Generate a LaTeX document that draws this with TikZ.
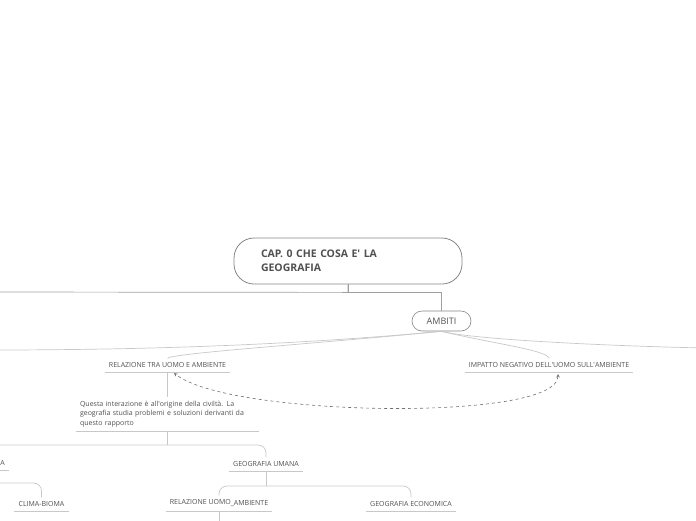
\documentclass[tikz,border=0pt]{standalone}
\usepackage{fontspec}
\setmainfont{Open Sans}
\usepackage{xcolor}
\definecolor{txt}{HTML}{505050}
\definecolor{edgegray}{HTML}{858585}
\definecolor{wire}{HTML}{C8C8C8}
\definecolor{rootwire}{HTML}{A0A0A0}
\definecolor{dashgray}{HTML}{707070}
\newcommand{\apo}{\textquotesingle}

\begin{document}
\begin{tikzpicture}[x=1pt,y=-1pt,
    root/.style={draw=edgegray,line width=0.8pt,rounded corners=20pt,text=txt,
      font=\bfseries\fontsize{10.5}{14}\selectfont,text width=174pt,align=left,
      inner xsep=27pt,minimum height=46pt},
    bubble/.style={draw=edgegray,line width=0.6pt,rounded corners=10pt,text=txt,
      font=\fontsize{9}{10}\selectfont,minimum width=59pt,minimum height=20pt},
    topic/.style={anchor=south,text=txt,font=\fontsize{7}{9.5}\selectfont,
      inner xsep=4pt,inner ysep=4pt,
      append after command={(\tikzlastnode.south west) edge[draw=wire,line width=0.6pt] (\tikzlastnode.south east)}},
    link/.style={draw=wire,line width=0.7pt},
    rootlink/.style={draw=rootwire,line width=0.7pt},
    relation/.style={draw=dashgray,line width=0.6pt,dashed,<->,>=stealth}]
  \useasboundingbox (0,0) rectangle (696,520);
  \clip (0,0) rectangle (696,520);
  \node[root] (R) at (348,261) {CAP. 0 CHE COSA E\apo{} LA\\GEOGRAFIA};
  \node[bubble] (A) at (441.5,321) {AMBITI};
  \node[topic] (B) at (167.5,372) {RELAZIONE TRA UOMO E AMBIENTE};
  \node[topic] (C) at (549,372) {IMPATTO NEGATIVO DELL\apo{}UOMO SULL\apo{}AMBIENTE};
  \node[topic,text width=175pt,align=left] (Q) at (167.5,431)
    {Questa interazione è all\apo{}origine della civiltà. La\\geografia studia problemi e soluzioni derivanti da\\questo rapporto};
  \node[topic] (GU) at (266,471) {GEOGRAFIA UMANA};
  \node[topic,anchor=south east] (GF) at (9,470) {GEOGRAFIA FISICA};
  \node[topic] (CB) at (41.5,511) {CLIMA-BIOMA};
  \node[topic] (RUA) at (219,511) {RELAZIONE UOMO\raisebox{-1pt}{\_AMBIENTE}};
  \node[topic] (GE) at (411,511) {GEOGRAFIA ECONOMICA};
  \coordinate (L0) at (-10,292);
  \coordinate (L1) at (-10,350);
  \coordinate (R1) at (706,348);
  \coordinate (D0) at (219,530);

  \draw[rootlink] (R.south) -- ++(0,8) -| (A.north);
  \draw[rootlink] (R.south) -- ++(0,8) -- (L0);
  \draw[link] (A.south) .. controls +(-150,14) and +(150,0) .. (L1);
  \draw[link] (A.south) .. controls +(-120,12) and +(0,-5) .. (B.north);
  \draw[link] (A.south) .. controls +(50,12) and +(0,-8) .. (C.north);
  \draw[link] (A.south) .. controls +(30,8) and +(-100,-2) .. (R1);
  \draw[relation] ([xshift=9pt,yshift=-2pt]C.south) .. controls +(0,48) and +(55,44) .. ([xshift=6.5pt,yshift=-1pt]B.south);
  \draw[link] (B.south) -- (Q.north);
  \draw[link] (Q.south) -- ++(0,14) coordinate (q);
  \draw[link,rounded corners=8pt] (q) -| (GU.north);
  \draw[link,rounded corners=8pt] (q) -| (GF.north);
  \draw[link] (GF.south) -- ++(0,13) coordinate (f);
  \draw[link,rounded corners=8pt] (f) -| (CB.north);
  \draw[link] (GU.south) -- ++(0,15) coordinate (u);
  \draw[link,rounded corners=8pt] (u) -| (RUA.north);
  \draw[link,rounded corners=8pt] (u) -| (GE.north);
  \draw[link] (RUA.south) -- (D0);
\end{tikzpicture}
\end{document}
